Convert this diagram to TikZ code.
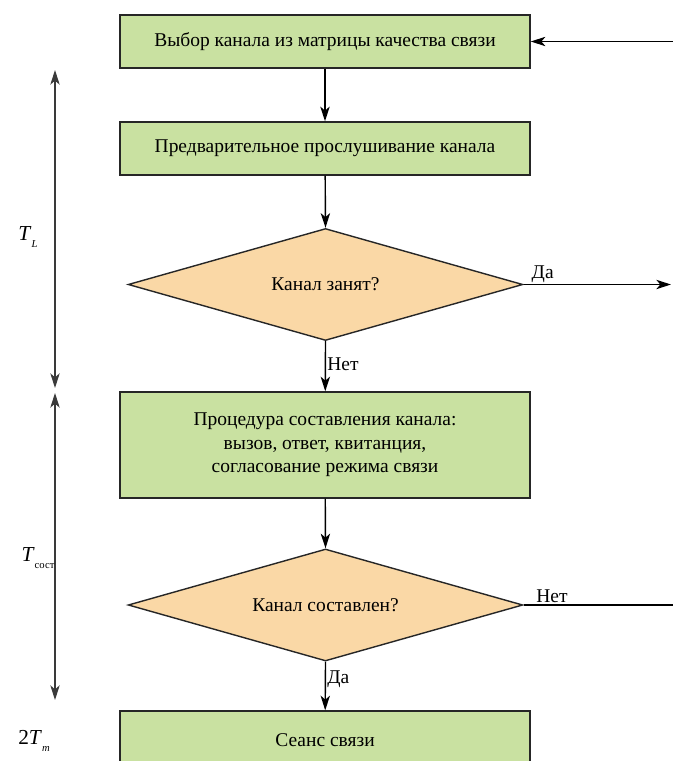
\documentclass[tikz,border=0pt]{standalone}
\usepackage{fontspec}
\setmainfont{Liberation Serif}
\usetikzlibrary{shapes.geometric,arrows.meta}
\definecolor{boxgreen}{HTML}{C9E1A1}
\definecolor{diaorange}{HTML}{FAD8A6}
\definecolor{linegray}{HTML}{3A3A3A}
\newcommand{\tsub}[1]{\raisebox{-5pt}{\fontsize{8}{8}\selectfont #1}}
\tikzset{
  x=0.75pt,y=-0.75pt,
  tip/.tip={Stealth[length=11pt,width=7pt,inset=3pt]},
  procbox/.style={draw=black!85,line width=1.05pt,fill=boxgreen,minimum width=307.5pt,inner sep=0pt,align=center,font=\fontsize{14.6}{17.5}\selectfont},
  decision/.style={draw=black!85,line width=1.05pt,fill=diaorange,diamond,aspect=3.53,minimum width=296pt,minimum height=84pt,inner sep=0pt,font=\fontsize{14.6}{17.5}\selectfont},
  flow/.style={line width=1.05pt,-tip},
  plain/.style={line width=1.05pt},
  span/.style={line width=1.05pt,draw=linegray,tip-tip},
  lbl/.style={font=\fontsize{14.6}{17.5}\selectfont,inner sep=1pt},
  timelbl/.style={font=\fontsize{16}{18}\selectfont,inner sep=0pt}
}
\begin{document}
\begin{tikzpicture}
\clip (0,0) rectangle (673,761);
\fill[white] (0,0) rectangle (673,761);
\node[procbox,minimum height=39.75pt] (b1) at (325,41.5) {Выбор канала из матрицы качества связи};
\node[procbox,minimum height=39.75pt] (b2) at (325,148.5) {Предварительное прослушивание канала};
\node[decision] (d1) at (325.5,284.5) {Канал занят?};
\node[procbox,minimum height=79.5pt] (b3) at (325,445) {Процедура составления канала:\\вызов, ответ, квитанция,\\согласование режима связи};
\node[decision] (d2) at (325.5,605) {Канал составлен?};
\node[procbox,minimum height=43.5pt] (b4) at (325,740) {Сеанс связи};
\coordinate (inR) at (673,41.5);
\coordinate (yesR) at (671,284.5);
\coordinate (noR) at (673,605);
\draw[flow] (b1) -- (b2);
\draw[flow] (b2) -- (d1.north);
\draw[flow] (d1.south) -- node[lbl,right,pos=0.45] {Нет} (b3);
\draw[flow] (b3) -- (d2.north);
\draw[flow] (d2.south) -- node[lbl,right,pos=0.35] {Да} (b4);
\draw[flow] (inR) -- (b1.east);
\draw[flow] (d1.east) -- node[lbl,above,pos=0.13] {Да} (yesR);
\draw[plain] (d2.east) -- node[lbl,above,pos=0.19] {Нет} (noR);
\coordinate (s1a) at (55,70);
\coordinate (s1b) at (55,388);
\coordinate (s2a) at (55,393);
\coordinate (s2b) at (55,700);
\draw[span] (s1a) -- (s1b);
\draw[span] (s2a) -- (s2b);
\node[timelbl] (tl) at (28,237) {\textit{T}\tsub{\textit{L}}};
\node[timelbl] (ts) at (38,558) {\textit{T}\tsub{сост}};
\node[timelbl] (tm) at (34,741) {2\textit{T}\tsub{\textit{m}}};
\end{tikzpicture}
\end{document}
